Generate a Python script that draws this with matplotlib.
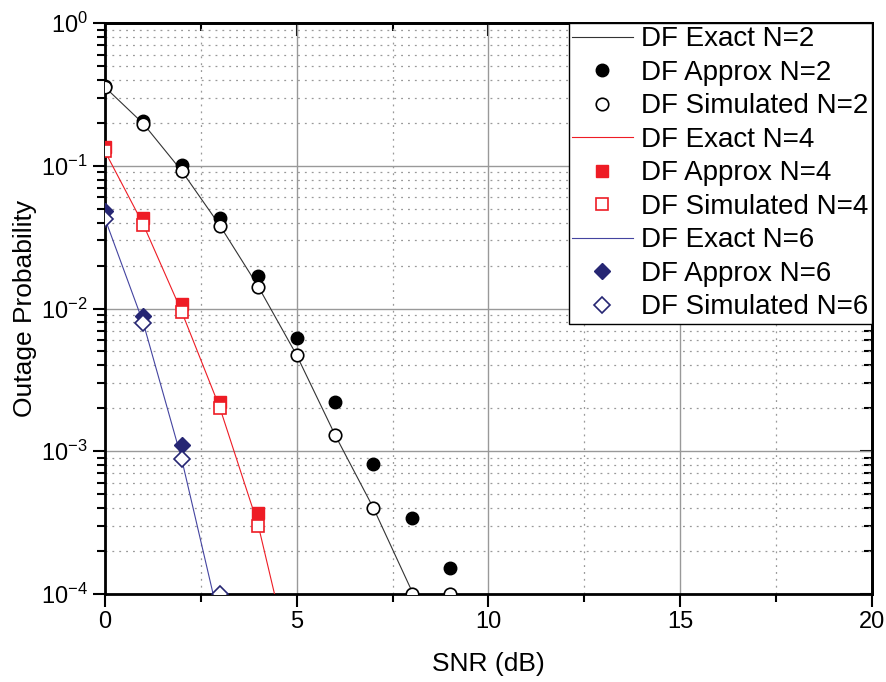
import matplotlib.pyplot as plt
import numpy as np
from matplotlib.ticker import MultipleLocator, LogLocator, NullFormatter

plt.rcParams['font.family'] = ['Liberation Sans', 'DejaVu Sans']
plt.rcParams['mathtext.fontset'] = 'custom'
plt.rcParams['mathtext.rm'] = 'Liberation Sans'

# SNR grid (dB)
snr = [0, 1, 2, 3, 4, 5, 6, 7, 8, 9]

# N=2
exact_n2 = [0.355, 0.197, 0.092, 0.038, 0.0142, 0.0047, 0.0013, 0.0004, 0.000105, 0.000028]
approx_n2 = [0.36, 0.205, 0.101, 0.043, 0.017, 0.0062, 0.0022, 0.00082, 0.00034, 0.000153]
sim_n2 = [0.356, 0.197, 0.092, 0.038, 0.0142, 0.0047, 0.0013, 0.0004, 0.0001, 0.0001]

# N=4
snr4 = [0, 1, 2, 3, 4, 5]
exact_n4 = [0.126, 0.0387, 0.0095, 0.0020, 0.00030, 0.000022]
approx_n4 = [0.135, 0.043, 0.0107, 0.0022, 0.00037]
sim_n4 = [0.126, 0.0387, 0.0095, 0.0020, 0.00030]

# N=6
snr6 = [0, 1, 2, 3]
exact_n6 = [0.0426, 0.0079, 0.00088, 0.000062]
approx_n6 = [0.048, 0.0088, 0.0011]
sim_n6 = [0.0426, 0.0079, 0.00088, 0.0001]

red = '#ee1c25'
navy = '#262673'

fig = plt.figure(figsize=(8.86, 6.82), dpi=100)
ax = fig.add_axes([0.1185, 0.129, 0.8657, 0.8373])

ms = 9
ax.plot(snr, exact_n2, '-', color='#333333', lw=0.8, label='DF Exact N=2', zorder=3)
ax.plot(snr, approx_n2, 'o', color='black', ms=ms, ls='none', label='DF Approx N=2', zorder=4)
ax.plot(snr, sim_n2, 'o', mfc='white', mec='black', mew=1.2, ms=ms, ls='none', label='DF Simulated N=2', zorder=5)
ax.plot(snr4, exact_n4, '-', color=red, lw=0.8, label='DF Exact N=4', zorder=3)
ax.plot(snr4[:5], approx_n4, 's', color=red, ms=ms - 0.5, ls='none', label='DF Approx N=4', zorder=4)
ax.plot(snr4[:5], sim_n4, 's', mfc='white', mec=red, mew=1.2, ms=ms - 0.5, ls='none', label='DF Simulated N=4', zorder=5)
ax.plot(snr6, exact_n6, '-', color='#4444a0', lw=0.8, label='DF Exact N=6', zorder=3)
ax.plot(snr6[:3], approx_n6, 'D', color=navy, ms=ms - 1, ls='none', label='DF Approx N=6', zorder=4)
ax.plot(snr6, sim_n6, 'D', mfc='white', mec=navy, mew=1.2, ms=ms - 1, ls='none', label='DF Simulated N=6', zorder=5)

ax.set_yscale('log')
ax.set_xlim(0, 20)
ax.set_ylim(1e-4, 1)

ax.xaxis.set_major_locator(MultipleLocator(5))
ax.xaxis.set_minor_locator(MultipleLocator(2.5))
ax.yaxis.set_major_locator(LogLocator(base=10, numticks=10))
ax.yaxis.set_minor_locator(LogLocator(base=10, subs=np.arange(2, 10), numticks=20))
ax.yaxis.set_minor_formatter(NullFormatter())

ax.grid(True, which='major', color='#999999', lw=1.0, ls='-')
ax.grid(True, which='minor', color='#999999', lw=0.9, ls=(0, (1.5, 4)))
ax.set_axisbelow(True)

for s in ax.spines.values():
    s.set_linewidth(2)
ax.tick_params(which='both', direction='out', top=False, right=False, labelsize=17, width=1.5)
ax.tick_params(which='major', length=9)
ax.tick_params(which='minor', length=6)
ax2 = ax.secondary_xaxis('top')
ax2.xaxis.set_major_locator(MultipleLocator(5))
ax2.xaxis.set_minor_locator(MultipleLocator(2.5))
ax2.tick_params(which='both', direction='in', labeltop=False, width=1.5)
ax2.tick_params(which='major', length=9)
ax2.tick_params(which='minor', length=6)
ax2.spines['top'].set_linewidth(2)
ay2 = ax.secondary_yaxis('right')
ay2.set_yscale('log')
ay2.yaxis.set_major_locator(LogLocator(base=10, numticks=10))
ay2.yaxis.set_minor_locator(LogLocator(base=10, subs=np.arange(2, 10), numticks=20))
ay2.yaxis.set_minor_formatter(NullFormatter())
ay2.tick_params(which='both', direction='in', labelright=False, width=1.5)
ay2.tick_params(which='major', length=9)
ay2.tick_params(which='minor', length=6)
ay2.spines['right'].set_linewidth(2)

ax.set_xlabel('SNR (dB)', fontsize=19)
ax.set_ylabel('Outage Probability', fontsize=19)
ax.xaxis.set_label_coords(0.5, -0.101)
ax.yaxis.set_label_coords(-0.089, 0.5)

leg = ax.legend(loc='upper right', bbox_to_anchor=(1.0, 1.0), fontsize=20, frameon=True,
                fancybox=False, edgecolor='black', framealpha=1, borderaxespad=0,
                handlelength=2.2, handletextpad=0.3, borderpad=0.12, labelspacing=0.27,
                numpoints=1)
leg.get_frame().set_linewidth(1.0)
leg.set_zorder(10)

fig.savefig('out.png', dpi=100)
